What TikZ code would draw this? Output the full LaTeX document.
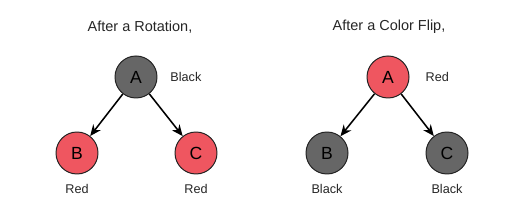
\documentclass[tikz,border=0pt]{standalone}
\usepackage{fontspec}
\setmainfont{Liberation Sans}
\usepackage{tikz}
\usetikzlibrary{arrows.meta, positioning}
\definecolor{RBRed}{RGB}{239, 86, 96}
\definecolor{RBBlack}{RGB}{102, 102, 102}
\definecolor{RBEdge}{RGB}{34, 34, 34}

\begin{document}
\begin{tikzpicture}[
	rbnode/.style={circle, draw=RBEdge, line width=0.7pt, minimum size=1.05cm, inner sep=0pt, font=\fontsize{12.5}{14}\selectfont},
	rbred/.style={rbnode, fill=RBRed},
	rbblack/.style={rbnode, fill=RBBlack},
	colour/.style={font=\fontsize{9}{11}\selectfont, text=black!85},
	heading/.style={font=\fontsize{10.3}{12}\selectfont, text=black!85},
	edge/.style={-{Stealth[length=2.8mm, width=2.4mm]}, line width=1.1pt}]
	\useasboundingbox (0,0) rectangle (13,5.15);
	% after a rotation
	\node[heading] (t1) at (3.5,4.475) {After a Rotation,};
	\node[rbblack] (a1) at (3.4,3.225) {A};
	\node[rbred] (b1) at (1.925,1.325) {B};
	\node[rbred] (c1) at (4.9,1.325) {C};
	\node[colour, right=0.2cm of a1] (la1) {Black};
	\node[colour, below=0.12cm of b1] (lb1) {Red};
	\node[colour, below=0.12cm of c1] (lc1) {Red};
	\draw[edge] (a1) -- (b1);
	\draw[edge] (a1) -- (c1);
	% after a color flip
	\node[heading] (t2) at (9.725,4.475) {After a Color Flip,};
	\node[rbred] (a2) at (9.7,3.225) {A};
	\node[rbblack] (b2) at (8.175,1.325) {B};
	\node[rbblack] (c2) at (11.175,1.325) {C};
	\node[colour, right=0.28cm of a2] (la2) {Red};
	\node[colour, below=0.12cm of b2] (lb2) {Black};
	\node[colour, below=0.12cm of c2] (lc2) {Black};
	\draw[edge] (a2) -- (b2);
	\draw[edge] (a2) -- (c2);
\end{tikzpicture}
\end{document}
